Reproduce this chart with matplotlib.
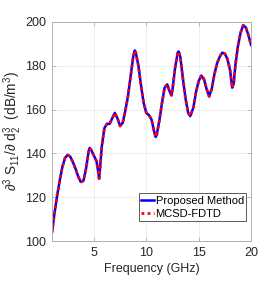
import matplotlib
matplotlib.use("Agg")
import matplotlib.pyplot as plt

plt.rcParams['font.family'] = ['Liberation Sans', 'DejaVu Sans']
plt.rcParams['mathtext.fontset'] = 'custom'
plt.rcParams['mathtext.rm'] = 'Liberation Sans'
plt.rcParams['mathtext.it'] = 'Liberation Sans:italic'

freq = [1.0, 1.25, 1.5, 1.75, 2.0, 2.25, 2.5, 2.75, 3.0, 3.25, 3.5, 3.75, 4.0, 4.25, 4.5, 4.6,
        4.75, 5.0, 5.25, 5.4, 5.5, 5.6, 5.75, 6.0, 6.25, 6.5, 6.75, 7.0, 7.25, 7.5, 7.75, 8.0,
        8.25, 8.5, 8.75, 8.9, 9.0, 9.25, 9.5, 9.75, 10.0, 10.25, 10.5, 10.75, 10.9, 11.0, 11.25,
        11.5, 11.75, 12.0, 12.25, 12.4, 12.5, 12.75, 13.0, 13.1, 13.25, 13.5, 13.75, 14.0, 14.2,
        14.5, 14.75, 15.0, 15.25, 15.5, 15.75, 16.0, 16.25, 16.5, 16.75, 17.0, 17.25, 17.5, 17.75,
        18.0, 18.2, 18.35, 18.5, 18.75, 19.0, 19.25, 19.5, 19.75, 20.0]
proposed = [104, 113, 121, 128, 134, 138, 139.3, 138.5, 136, 133, 129.5, 127, 127.5, 133, 141, 142.5,
            141.5, 139, 136.5, 132, 128.5, 134, 143, 151.5, 153.5, 153.5, 156, 158.5, 156, 152.5, 154, 159.5,
            166, 175, 184, 187, 186, 180, 171, 163, 158.5, 157.5, 155.5, 150, 147.5, 148.5, 155,
            163, 170, 171.5, 168, 166.5, 169, 179, 186, 186.5, 184, 174, 165, 158.5, 157,
            161, 168, 173, 175.5, 174, 169.5, 166, 169.5, 176, 181, 184, 186, 185.5, 183,
            178, 170, 172, 180, 189, 195, 198.5, 197.5, 194, 189.5]
mcsd = list(proposed)

fig = plt.figure(figsize=(2.78, 2.81), dpi=100)
ax = fig.add_axes([0.187, 0.142, 0.716, 0.78])
ax.plot(freq, proposed, color=(0, 0, 1), lw=1.8, label='Proposed Method')
ax.plot(freq, mcsd, color=(1, 0, 0), lw=2.0, ls=(0, (1, 1.2)), label='MCSD-FDTD')
ax.set_xlim(1, 20)
ax.set_ylim(100, 200)
ax.set_xticks([5, 10, 15, 20])
ax.set_yticks([100, 120, 140, 160, 180, 200])
ax.grid(True, color='#ebebeb', lw=0.6)
ax.set_axisbelow(True)
for s in ax.spines.values():
    s.set_color('#b0b0b0')
    s.set_linewidth(0.7)
ax.tick_params(direction='in', length=3, width=0.6, color='#b0b0b0', labelsize=9,
               labelcolor='#262626', top=True, right=True, pad=4)
ax.set_xlabel('Frequency (GHz)', fontsize=9, color='#262626', labelpad=3)
ax.set_ylabel(r'$\partial^3$ S$_{11}$/$\partial$ d$_2^3$  (dB/m$^3$)', fontsize=9.8,
              color='#262626')
ax.yaxis.set_label_coords(-0.14, 0.5)

leg = ax.legend(loc='lower right', fontsize=8, handlelength=1.15, handletextpad=0.15,
                borderpad=0.2, labelspacing=0.3, fancybox=False, framealpha=1,
                bbox_to_anchor=(0.975, 0.091), borderaxespad=0)
leg.get_frame().set_edgecolor('#404040')
leg.get_frame().set_linewidth(0.6)
fig.savefig('out.png', dpi=100)
